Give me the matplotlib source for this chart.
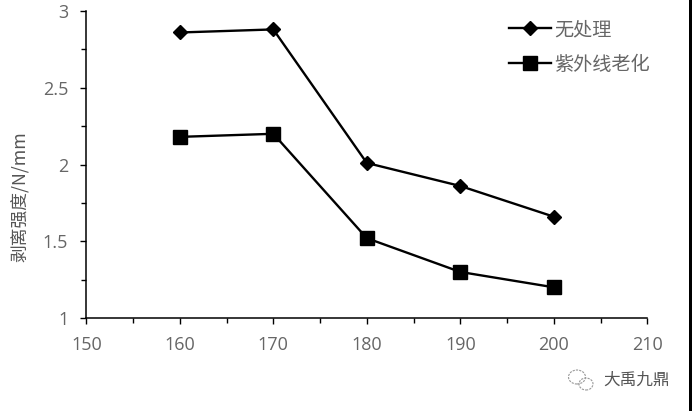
import matplotlib
matplotlib.use('Agg')
import matplotlib.pyplot as plt
from matplotlib.patches import Rectangle, Ellipse
from matplotlib.ticker import MultipleLocator

plt.rcParams['font.family'] = ['Open Sans', 'Noto Sans CJK SC', 'DejaVu Sans']

temperature = [160, 170, 180, 190, 200]
untreated = [2.86, 2.88, 2.01, 1.86, 1.66]
uv_aged = [2.18, 2.20, 1.52, 1.30, 1.20]

W, H = 692, 411
text_color = '#666666'

fig = plt.figure(figsize=(W / 100, H / 100), dpi=100)
ax = fig.add_axes([86.3 / W, 1 - 318 / H, 561 / W, 307 / H])

ax.plot(temperature, untreated, color='black', lw=1.7, marker='D', ms=7.5, label='无处理', clip_on=False)
ax.plot(temperature, uv_aged, color='black', lw=1.7, marker='s', ms=10, label='紫外线老化', clip_on=False)

ax.set_xlim(150, 210)
ax.set_ylim(1, 3)
ax.xaxis.set_minor_locator(MultipleLocator(5))
ax.yaxis.set_minor_locator(MultipleLocator(0.25))
ax.set_xticks([150, 160, 170, 180, 190, 200, 210])
ax.set_yticks([1, 1.5, 2, 2.5, 3])
ax.set_yticklabels(['1', '1.5', '2', '2.5', '3'])

ax.spines['top'].set_visible(False)
ax.spines['right'].set_visible(False)
ax.spines['left'].set_linewidth(1.1)
ax.spines['bottom'].set_linewidth(1.1)
ax.tick_params(which='major', length=4.5, width=1, labelsize=13, labelcolor=text_color, pad=8.5)
ax.tick_params(which='minor', length=3.5, width=1)
ax.set_ylabel('剥离强度/N/mm', fontsize=12.8, color='#555555', family=['Noto Sans CJK SC', 'DejaVu Sans'])
ax.yaxis.set_label_coords((30 - 86.3) / 561, 0.394)

ax.legend(loc='upper left', bbox_to_anchor=(509 / W, 1 - 21 / H), bbox_transform=fig.transFigure,
          frameon=False, fontsize=13.8, labelcolor=text_color, handlelength=2.2,
          labelspacing=0.85, handletextpad=0.15, borderpad=0, borderaxespad=0)

# watermark and dark screenshot edge
fig.text(603 / W, 1 - 380 / H, '大禹九鼎', fontsize=12, color='#555555', va='center',
         family=['Noto Sans CJK SC', 'DejaVu Sans'])
for cx, cy, ew, eh in [(577, 377, 17, 14), (586, 384, 14, 12)]:
    fig.add_artist(Ellipse((cx / W, 1 - cy / H), ew / W, eh / H, transform=fig.transFigure,
                           fill=False, ec='#999999', lw=0.8, ls=(0, (2, 1))))
fig.add_artist(Rectangle((689 / W, 0), 3 / W, 1, transform=fig.transFigure, color='black', lw=0))

fig.savefig('out.png', dpi=100)
